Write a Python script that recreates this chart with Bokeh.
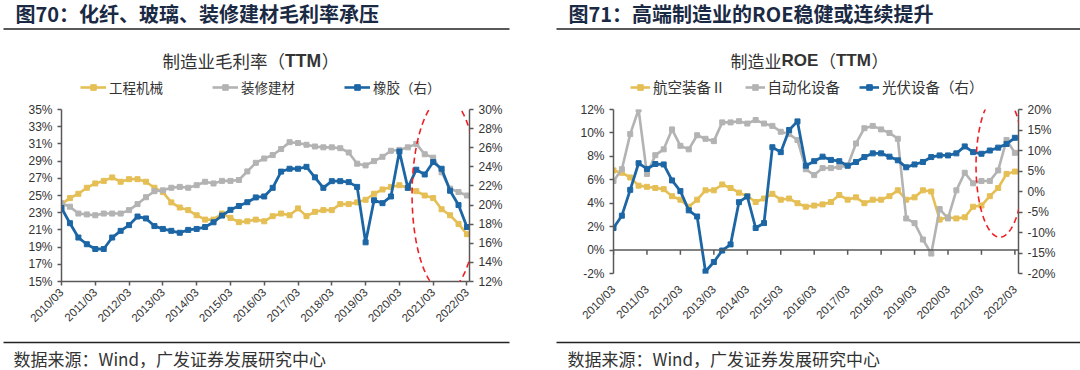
import numpy as np
from bokeh.plotting import figure
from bokeh.models import (Range1d, LinearAxis, FixedTicker, PrintfTickFormatter,
                          Label, Legend, LegendItem, Span, PolyAnnotation)
from bokeh.layouts import row, column
from bokeh.embed import file_html
from bokeh.resources import INLINE

# ---------------- data ----------------
tick_labels = ["2010/03", "2011/03", "2012/03", "2013/03", "2014/03", "2015/03", "2016/03",
               "2017/03", "2018/03", "2019/03", "2020/03", "2021/03", "2022/03"]
tick_pos = [0, 4, 8, 12, 16, 20, 24, 28, 32, 36, 40, 44, 48]   # quarter index of each label
quarter_idx = list(range(49))                                    # 2010/03 .. 2022/03 quarterly

# 图70 制造业毛利率（TTM）
machinery = [24.0, 24.7, 25.2, 25.9, 26.4, 26.7, 27.1, 26.6, 26.9, 26.9, 26.6, 25.9, 25.4,
             24.2, 23.6, 23.3, 22.7, 22.2, 22.2, 22.9, 22.4, 21.9, 22.0, 22.2, 22.0,
             22.6, 22.9, 22.7, 23.5, 22.6, 23.1, 23.3, 23.3, 24.0, 24.0, 24.2, 24.5,
             25.2, 25.7, 26.0, 26.2, 25.9, 25.5, 25.0, 24.7, 23.4, 22.7, 21.7, 20.5]
decoration = [24.1, 23.7, 22.9, 22.8, 22.7, 22.9, 22.9, 22.9, 23.3, 24.0, 24.8, 25.5, 25.6,
              25.9, 26.0, 25.9, 26.2, 26.6, 26.4, 26.7, 26.7, 26.8, 27.8, 28.8, 29.3,
              29.7, 30.4, 31.2, 31.1, 30.9, 30.7, 30.6, 30.6, 30.5, 30.0, 28.7, 28.5,
              29.0, 29.5, 30.2, 30.3, 30.6, 31.0, 29.8, 29.4, 27.7, 25.8, 25.4, 25.0]
rubber = [19.7, 18.1, 16.6, 15.9, 15.4, 15.4, 16.6, 17.3, 17.9, 18.8, 18.6, 17.8, 17.5,
          17.3, 17.1, 17.4, 17.5, 17.7, 18.2, 18.9, 19.5, 19.9, 20.3, 20.8, 20.9,
          21.8, 23.5, 23.8, 23.8, 24.0, 22.9, 21.8, 22.5, 22.5, 22.4, 21.9, 16.1,
          20.5, 20.2, 20.9, 25.6, 21.8, 23.7, 23.2, 24.5, 23.8, 21.5, 20.0, 17.7]

# 图71 制造业ROE（TTM）
aero = [6.8, 6.6, 6.2, 5.5, 5.4, 5.3, 5.2, 4.6, 4.3, 3.7, 4.3, 5.1, 5.1,
        5.6, 5.3, 4.9, 4.6, 4.1, 4.4, 4.8, 4.3, 4.4, 4.0, 3.7, 3.8,
        3.9, 4.1, 4.7, 4.3, 4.5, 4.0, 4.3, 4.3, 4.6, 5.1, 4.3, 4.5,
        5.1, 5.0, 2.6, 2.8, 2.7, 2.8, 3.7, 3.8, 4.6, 5.3, 6.5, 6.7]
automation = [5.9, 6.9, 9.9, 12.0, 6.5, 8.1, 8.6, 10.3, 8.9, 8.6, 9.8, 9.5, 9.3,
              10.9, 10.9, 11.0, 10.8, 11.1, 10.8, 10.6, 10.1, 9.9, 9.4, 6.9, 6.4,
              7.0, 7.0, 7.1, 7.2, 9.1, 10.4, 10.6, 10.3, 10.0, 9.5, 2.7, 2.3,
              0.9, -0.3, 3.5, 2.7, 5.1, 6.6, 5.7, 5.9, 5.9, 6.8, 9.4, 8.3]
pv = [-8.9, -5.9, 0.4, 6.9, 5.5, 6.7, 6.6, 2.7, 0.1, -4.6, -6.1, -19.5, -17.2,
      -14.4, -12.9, -2.6, -1.2, -8.9, -7.7, 10.8, 9.6, 15.0, 17.1, 6.3, 7.4,
      8.5, 7.7, 7.4, 6.3, 7.2, 8.4, 9.3, 9.3, 8.5, 7.6, 5.9, 6.6,
      7.2, 8.4, 8.8, 8.8, 9.3, 11.0, 9.6, 9.2, 10.0, 10.7, 11.6, 13.1]

left_ticks_70 = [15, 17, 19, 21, 23, 25, 27, 29, 31, 33, 35]
right_ticks_70 = [12, 14, 16, 18, 20, 22, 24, 26, 28, 30]
left_ticks_71 = [-2, 0, 2, 4, 6, 8, 10, 12]
right_ticks_71 = [-20, -15, -10, -5, 0, 5, 10, 15, 20]

# ---------------- style ----------------
GOLD = "#E5BF55"
GRAY = "#B3B3B3"
BLUE = "#1C66A5"
AX = "#595959"
TXT = "#333333"
HEAD = "#1B2A44"
RED = "#F01E23"
RULE = "#222222"
CJK = "Noto Sans CJK SC"
LAT = "Liberation Sans"
W = 540
HH, CH, FH_ = 98, 238, 34     # header / chart / footer heights (sum 370)
NAN = float("nan")


def canvas(h):
    """A figure whose frame is the whole area; data units = pixels (y downwards)."""
    p = figure(width=W, height=h, x_range=Range1d(0, W), y_range=Range1d(h, 0),
               x_axis_type=None, y_axis_type=None, min_border=0, frame_align=False,
               output_backend="svg", toolbar_location=None, tools="")
    p.xgrid.visible = False
    p.ygrid.visible = False
    p.outline_line_color = None
    return p


def text(p, x, y, s, font, size, style="normal", color=TXT):
    p.add_layout(Label(x=x, y=y, text=s, text_font=font, text_font_size=f"{size}px",
                       text_font_style=style, text_color=color, text_align="left",
                       text_baseline="middle"))


def rule(p, x0, x1, y):
    p.segment(x0=[x0], y0=[y], x1=[x1], y1=[y], line_color=RULE, line_width=1.5)


def pieces(p, x, y, parts, size):
    for s, font, style, w_em in parts:
        text(p, x, y, s, font, size, style=style)
        x += w_em * size


def chart(FL, FT, FW, FH, xr, yr, yr2, lt, rt):
    p = figure(width=W, height=CH, x_range=Range1d(*xr), y_range=Range1d(*yr),
               min_border_left=FL, min_border_right=W - FL - FW,
               min_border_top=FT, min_border_bottom=CH - FT - FH, frame_align=False,
               output_backend="svg", toolbar_location=None, tools="")
    p.xgrid.visible = False
    p.ygrid.visible = False
    p.outline_line_color = None
    p.extra_y_ranges = {"right": Range1d(*yr2)}
    ry = LinearAxis(y_range_name="right")
    p.add_layout(ry, "right")
    for ax in [p.yaxis[0], ry, p.xaxis[0]]:
        ax.axis_line_color = AX
        ax.axis_line_width = 1.5
        ax.major_tick_line_color = AX
        ax.major_tick_line_width = 1.5
        ax.major_tick_out = 4
        ax.major_tick_in = 0
        ax.minor_tick_line_color = None
        ax.major_label_text_font = LAT
        ax.major_label_text_font_size = "12px"
        ax.major_label_text_color = TXT
        ax.major_label_standoff = 5
    p.yaxis[0].ticker = FixedTicker(ticks=lt)
    p.yaxis[0].formatter = PrintfTickFormatter(format="%d%%")
    ry.ticker = FixedTicker(ticks=rt)
    ry.formatter = PrintfTickFormatter(format="%d%%")
    xa = p.xaxis[0]
    xa.ticker = FixedTicker(ticks=tick_pos)
    xa.major_label_overrides = {t: l for t, l in zip(tick_pos, tick_labels)}
    xa.major_label_orientation = np.pi / 4
    xa.major_label_text_font_size = "11.5px"
    return p


def series(p, ys, color, right=False, lw=2.6):
    kw = {"y_range_name": "right"} if right else {}
    p.line(quarter_idx, ys, line_color=color, line_width=lw, **kw)
    p.scatter(quarter_idx, ys, marker="square", size=5, color=color, **kw)


def ellipse(p, cx, cy, a, b):
    t = np.linspace(0, 2 * np.pi, 160)
    p.add_layout(PolyAnnotation(xs=list(cx + a * np.cos(t)), ys=list(cy + b * np.sin(t)),
                                fill_color=None, fill_alpha=0, line_color=RED,
                                line_alpha=1.0, line_width=1.6, line_dash="6 4"))


def legend(p, labels, colors, loc, spacing, gw, fsize):
    items = []
    for lab, col in zip(labels, colors):
        # swatch-only renderers (a single NaN point, nothing drawn in the frame)
        r1 = p.line(x=[NAN], y=[NAN], line_color=col, line_width=2.6)
        r2 = p.scatter(x=[NAN], y=[NAN], marker="square", size=5, color=col)
        items.append(LegendItem(label=lab, renderers=[r1, r2]))
    p.add_layout(Legend(items=items, orientation="horizontal", location=loc,
                        padding=0, margin=0, spacing=spacing, glyph_width=gw,
                        glyph_height=14, label_height=14, label_standoff=3,
                        label_text_font=CJK, label_text_font_size=fsize,
                        label_text_color=TXT, border_line_color=None,
                        background_fill_alpha=0), "center")


# ================= 图70 =================
h1 = canvas(HH)
text(h1, 15, 13, "图70：化纤、玻璃、装修建材毛利率承压", CJK, 20, style="bold", color=HEAD)
rule(h1, 3, 509, 28.5)
pieces(h1, 162, 60, [("制造业毛利率（", CJK, "normal", 7.0),
                     ("TTM", LAT, "bold", 2.1),
                     ("）", CJK, "normal", 1.0)], 17.5)
legend(h1, ["工程机械", "装修建材", "橡胶（右）"], [GOLD, GRAY, BLUE], (80, 1), 49, 26, "13.5px")

p1 = chart(61, 11, 408, 172, (0, 48.3), (15, 35), (12, 30), left_ticks_70, right_ticks_70)
series(p1, machinery, GOLD)
series(p1, decoration, GRAY)
series(p1, rubber, BLUE, right=True, lw=2.8)
ellipse(p1, 45.4, 25.1, 3.9, 11.3)

f1 = canvas(FH_)
rule(f1, 3, 509, 6)
text(f1, 13, 22, "数据来源：Wind，广发证券发展研究中心", CJK, 17)

# ================= 图71 =================
h2 = canvas(HH)
text(h2, 28, 13, "图71：高端制造业的ROE稳健或连续提升", CJK, 20, style="bold", color=HEAD)
rule(h2, 16, 540, 28.5)
pieces(h2, 190, 60, [("制造业", CJK, "normal", 3.0),
                     ("ROE", LAT, "bold", 2.2),
                     ("（", CJK, "normal", 1.0),
                     ("TTM", LAT, "bold", 2.1),
                     ("）", CJK, "normal", 1.0)], 17)
legend(h2, ["航空装备Ⅱ", "自动化设备", "光伏设备（右）"], [GOLD, GRAY, BLUE], (90, 1), 19, 20, "14.5px")

p2 = chart(73, 11, 405, 164, (0, 48.43), (-2, 12), (-20, 20), left_ticks_71, right_ticks_71)
xa2 = p2.xaxis[0]
xa2.axis_line_color = None
xa2.major_tick_line_color = None
xa2.major_label_standoff = 10
p2.add_layout(Span(location=0, dimension="width", line_color=AX, line_width=1.5))
p2.segment(x0=tick_pos, y0=[0] * len(tick_pos), x1=tick_pos, y1=[-0.4] * len(tick_pos),
           line_color=AX, line_width=1.5)
series(p2, aero, GOLD)
series(p2, automation, GRAY)
series(p2, pv, BLUE, right=True, lw=2.8)
ellipse(p2, 46.2, 7.2, 2.85, 6.1)

f2 = canvas(FH_)
rule(f2, 16, 540, 6)
text(f2, 27, 22, "数据来源：Wind，广发证券发展研究中心", CJK, 17)

layout = row(column(h1, p1, f1, spacing=0), column(h2, p2, f2, spacing=0), spacing=0)
open("out.html", "w").write(file_html(layout, INLINE))
